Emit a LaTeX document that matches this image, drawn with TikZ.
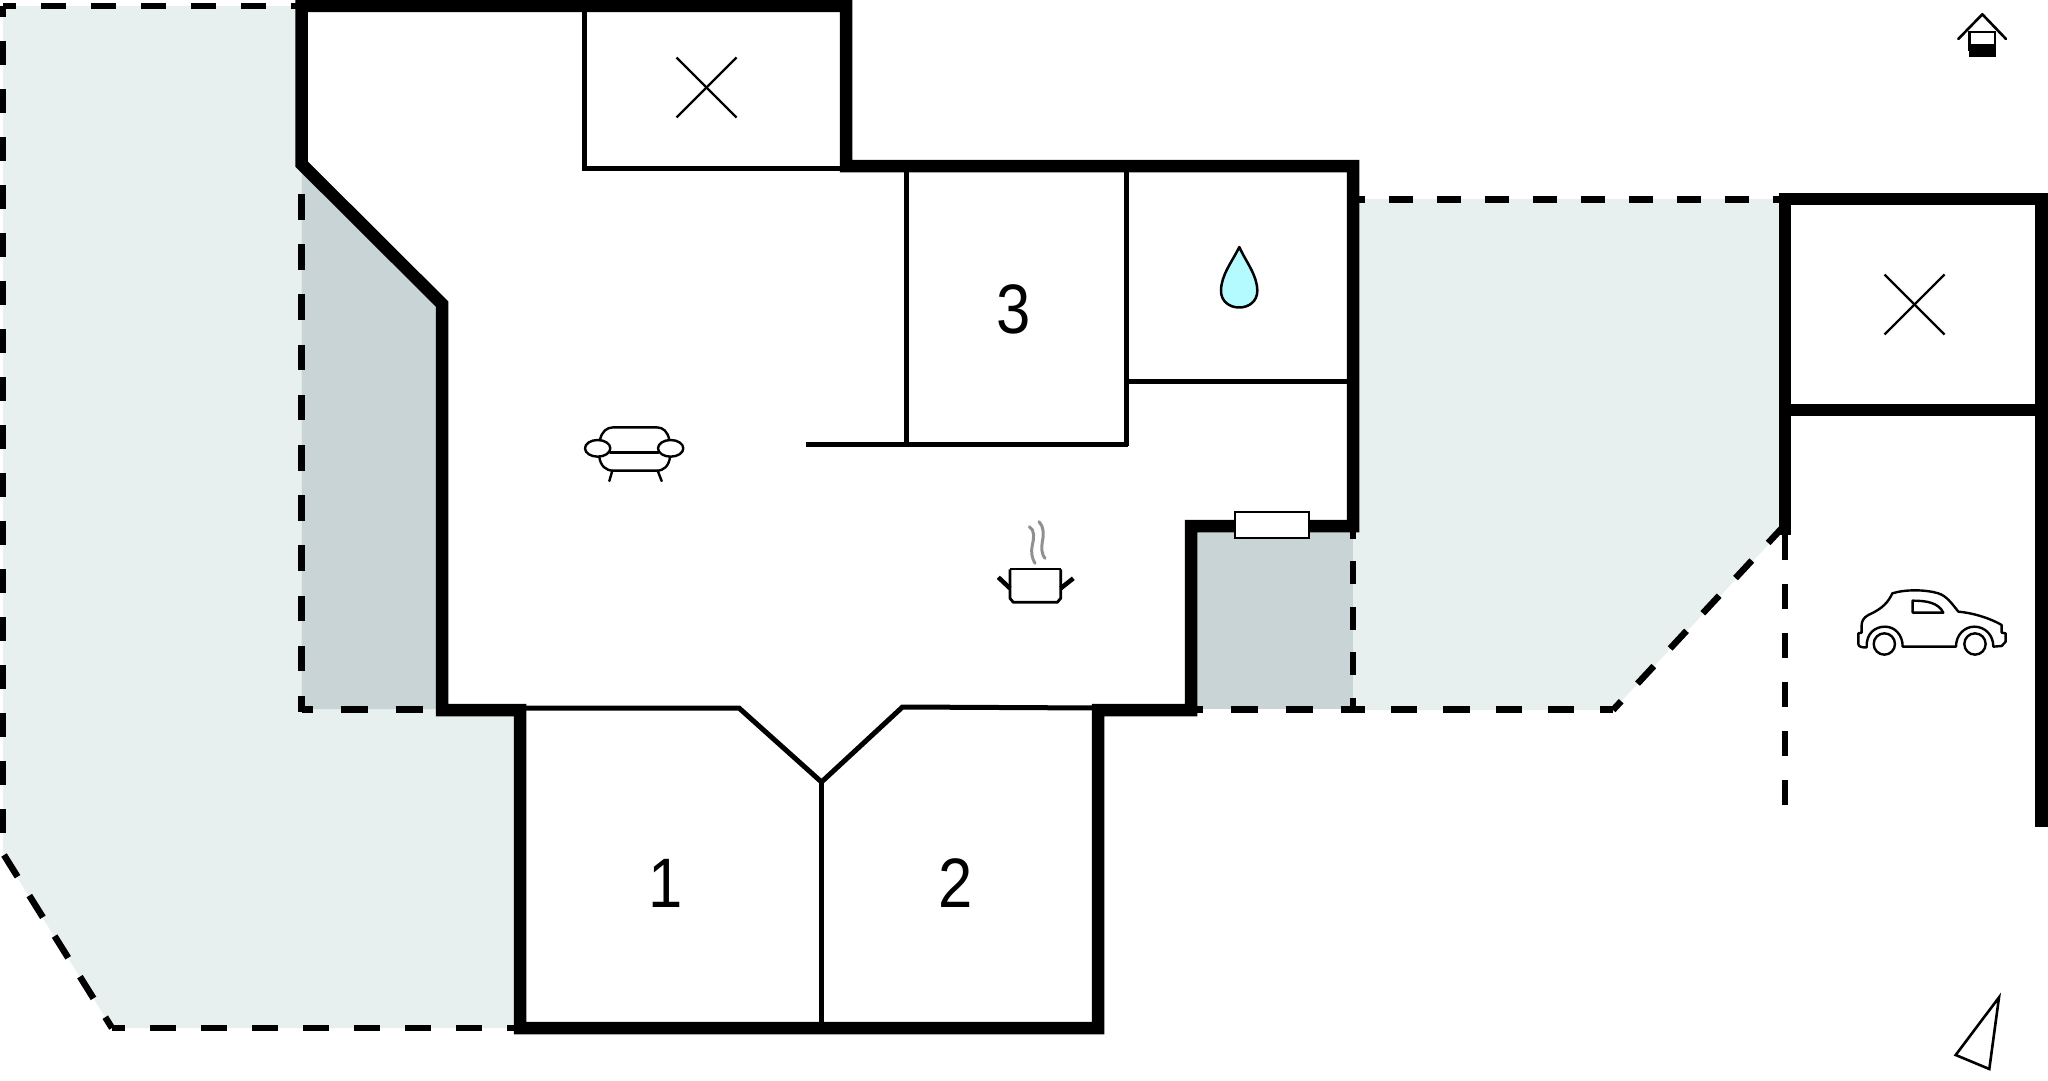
\documentclass[tikz,border=0pt]{standalone}
\usepackage{fontspec}
\setmainfont{Liberation Sans}
\definecolor{yardlight}{HTML}{E8F0EF}
\definecolor{yarddark}{HTML}{C8D4D5}
\definecolor{dropblue}{HTML}{B3FBFF}
\definecolor{steamgray}{HTML}{909090}
\begin{document}
\begin{tikzpicture}[x=1pt, y=-1pt,
  wall/.style={line width=12.5pt, line join=miter},
  inner/.style={line width=5pt},
  dashline/.style n args={3}{line width=6.5pt, dash pattern=on #1pt off #2pt, dash phase=#3pt},
  icon/.style={line width=2.4pt, line join=round, line cap=round},
  roomnum/.style={font=\fontsize{70}{70}\selectfont, inner sep=0pt, xscale=0.88}]
\useasboundingbox (0,0) rectangle (2048,1081);

\fill[yardlight] (3,6) -- (301.5,6) -- (301.5,709) -- (520,709) -- (520,1028) -- (112,1028) -- (3,855) -- cycle;
\fill[yardlight] (1353,199) -- (1785,199) -- (1785,527) -- (1613,710) -- (1353,710) -- cycle;
\fill[yarddark] (301.5,164) -- (442,304) -- (442,709) -- (301.5,709) -- cycle;
\fill[yarddark] (1191,526) -- (1353,526) -- (1353,709) -- (1191,709) -- cycle;

\draw[dashline={25}{25}{12}] (3,6) -- (300,6);
\draw[dashline={24}{24}{13}] (3,6) -- (3,833);
\draw[dashline={25.6}{22.2}{0}] (4,855) -- (112,1028);
\draw[dashline={25.5}{25.5}{13}] (112,1028) -- (514,1028);
\draw[dashline={25.5}{24.7}{0}] (301.5,194) -- (301.5,712);
\draw[dashline={27}{28}{16}] (301.5,709.5) -- (436,709.5);
\draw[dashline={23}{22.6}{10.4}] (1353,526) -- (1353,712);
\draw[dashline={27.5}{27.5}{15.5}] (1191,709.5) -- (1353,709.5);
\draw[dashline={26.3}{26}{14.3}] (1353,709.5) -- (1613,709.5);
\draw[dashline={24}{24}{12}] (1613,710) -- (1782,528);
\draw[dashline={24.3}{23.7}{12}] (1353,199.3) -- (1779,199.3);
\draw[dashline={25}{24}{0}] (1785,535) -- (1785,806);

\draw[wall] (301.5,6) -- (846,6) -- (846,166) -- (1353,166) -- (1353,526) -- (1191,526) -- (1191,710) -- (1098,710) -- (1098,1028) -- (520,1028) -- (520,710) -- (442,710) -- (442,304) -- (301.5,164) -- cycle;
\draw[wall] (1785,535) -- (1785,199) -- (2041.5,199) -- (2041.5,827);
\draw[wall] (1785,410) -- (2041.5,410);

\draw[inner] (584,6) -- (584,168.5) -- (846,168.5);
\draw[inner] (906.5,166) -- (906.5,444);
\draw[inner] (1126,166) -- (1126,446);
\draw[inner] (806,444) -- (1128,444);
\draw[inner] (1126,381.5) -- (1353,381.5);
\draw[inner] (520,708) -- (739,708) -- (821.5,782) -- (902.5,707) -- (1098,708);
\draw[inner] (821.5,782) -- (821.5,1028);

\draw[icon, line cap=butt] (676.5,57.5) -- (736.5,117.5);
\draw[icon, line cap=butt] (676.5,117.5) -- (736.5,57.5);
\draw[icon, line cap=butt] (1884.5,274.5) -- (1944.5,334.5);
\draw[icon, line cap=butt] (1884.5,334.5) -- (1944.5,274.5);

\draw[line width=2.4pt, fill=white] (1235,512) rectangle (1309,538);

\node[roomnum] (roomone) at (666,883) {1};
\node[roomnum] (roomtwo) at (956,883) {2};
\node[roomnum] (roomthree) at (1013.5,309.5) {3};

% sofa
\begin{scope}[shift={(560,400)}, x=0.3333pt, y=-0.3333pt]
\draw[icon] (120,120) .. controls (125,95) and (140,82) .. (160,82) -- (290,82) .. controls (310,82) and (323,95) .. (328,120);
\draw[icon] (75,145) arc[start angle=180, end angle=-180, x radius=38, y radius=25];
\draw[icon] (294,145) arc[start angle=180, end angle=-180, x radius=38, y radius=25];
\draw[icon] (150,158) -- (295,158);
\draw[icon] (118,172) .. controls (122,198) and (138,212) .. (160,212) -- (290,212) .. controls (312,212) and (326,198) .. (330,172);
\draw[icon] (157,212) -- (148,243);
\draw[icon] (293,212) -- (305,243);
\end{scope}

% pot
\begin{scope}[shift={(970,500)}, x=0.3333pt, y=-0.3333pt]
\draw[steamgray, line width=3pt, line cap=round] (178,80) .. controls (195,90) and (192,115) .. (187,135) .. controls (182,155) and (186,175) .. (195,190);
\draw[steamgray, line width=3pt, line cap=round] (207,65) .. controls (222,80) and (222,105) .. (217,125) .. controls (213,145) and (216,165) .. (225,175);
\draw[line width=1.8pt] (120,208) -- (272,208);
\draw[line width=2.8pt, line join=round] (120,208) -- (120,295) -- (130,307) -- (262,307) -- (272,295) -- (272,208);
\draw[line width=4.5pt] (85,232) -- (120,265);
\draw[line width=4.5pt] (310,235) -- (272,265);
\end{scope}

% drop
\draw[line width=2.5pt, fill=dropblue, line join=round] (1239.3,247) .. controls (1232,262) and (1221,275) .. (1221,291) .. controls (1221,301) and (1229,307.5) .. (1239.3,307.5) .. controls (1249,307.5) and (1257.3,301) .. (1257.3,291) .. controls (1257.3,275) and (1246,262) .. cycle;

% car
\begin{scope}[shift={(1830,570)}, x=0.3333pt, y=-0.3333pt]
\draw[icon] (95,188) -- (85,190) -- (85,222) .. controls (85,230) and (95,233) .. (110,232) .. controls (108,190) and (135,170) .. (165,170) .. controls (195,170) and (218,195) .. (218,230) -- (378,230) .. controls (378,195) and (403,170) .. (433,170) .. controls (465,170) and (490,195) .. (490,230) -- (515,228) -- (527,215) -- (527,190) -- (515,188) -- (515,165) .. controls (490,150) and (440,130) .. (385,125) .. controls (365,100) and (350,78) .. (325,70) .. controls (285,58) and (225,58) .. (187,70) .. controls (175,95) and (160,115) .. (115,135) .. controls (100,143) and (95,155) .. (95,165) -- cycle;
\draw[icon] (163,222) circle[radius=32];
\draw[icon] (435,222) circle[radius=32];
\draw[icon] (248,92) .. controls (290,92) and (325,98) .. (340,128) -- (248,128) -- cycle;
\end{scope}

% well
\draw[line width=2.6pt, line cap=round, line join=round] (1958.3,39) -- (1982.3,14.3) -- (2006,39);
\fill (1968.5,44.3) rectangle (1996,57.3);
\draw[line width=2.5pt] (1969.5,32) rectangle (1995,50);

% north arrow
\draw[line width=2.6pt, line join=miter] (1999,997.3) -- (1989.3,1069) -- (1955.7,1055) -- cycle;
\end{tikzpicture}
\end{document}
